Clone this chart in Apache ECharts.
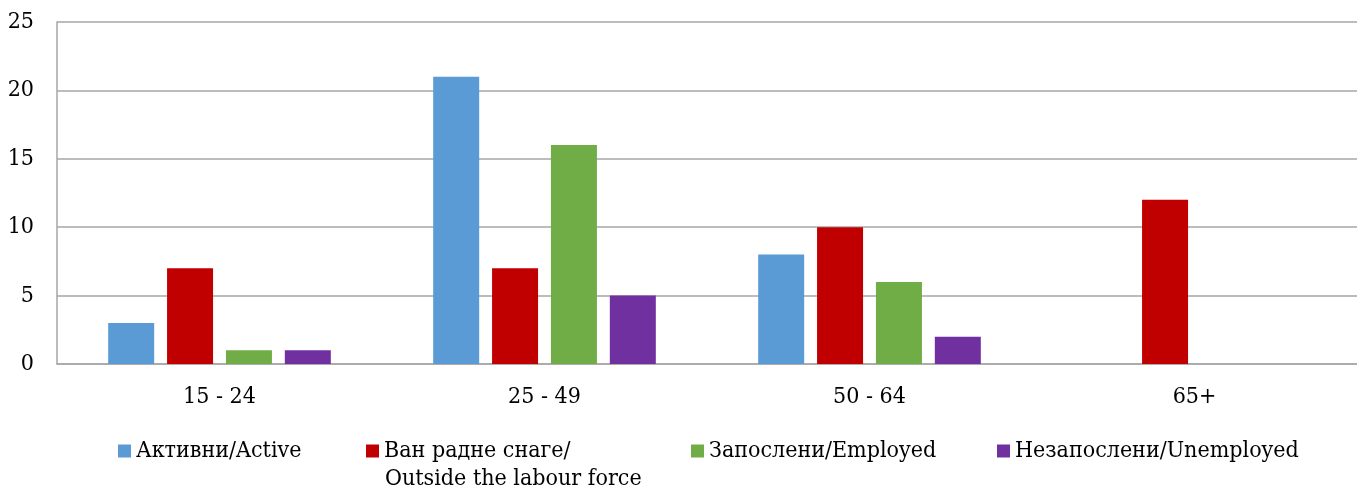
<!DOCTYPE html>
<html>
<head>
<meta charset="utf-8">
<script src="https://cdn.jsdelivr.net/npm/echarts@6/dist/echarts.min.js"></script>
<style>html,body{margin:0;padding:0;background:#fff;}#c{width:1357px;height:486px;}</style>
</head>
<body>
<div id="c"></div>
<script>
const categories = ['15 - 24', '25 - 49', '50 - 64', '65+'];
const seriesNames = ['Активни/Active', 'Ван радне снаге/\nOutside the labour force', 'Запослени/Employed', 'Незапослени/Unemployed'];
const active = [3, 21, 8, null];
const outside = [7, 7, 10, 12];
const employed = [1, 16, 6, null];
const unemployed = [1, 5, 2, null];
const colors = ['#5b9bd5', '#c00000', '#70ad47', '#7030a0'];

const FONT = 'DejaVu Serif Condensed, DejaVu Serif';
const FS = 23;
const chart = echarts.init(document.getElementById('c'));
const values = [active, outside, employed, unemployed];
const legendLeft = [118, 366, 691, 997];
const LEG_Y = 451;

const graphics = [];
const legends = seriesNames.map((n, i) => {
  const parts = n.split('\n');
  const lg = {
    data: [n],
    left: legendLeft[i],
    top: LEG_Y - 13.5,
    padding: 0,
    itemWidth: 13,
    itemHeight: 13,
    itemGap: 0,
    icon: 'rect',
    selectedMode: false,
    textStyle: { fontFamily: FONT, fontSize: FS, color: '#000', lineHeight: 27 }
  };
  if (parts.length > 1) {
    lg.formatter = () => parts[0];
    graphics.push({
      type: 'text',
      left: legendLeft[i] + 19,
      top: LEG_Y + 28 - 13.5,
      style: { text: parts[1], font: FS + 'px ' + FONT, fill: '#000', lineHeight: 27 }
    });
  }
  return lg;
});

chart.setOption({
  animation: false,
  color: colors,
  textStyle: { fontFamily: FONT },
  grid: { left: 57, right: 0, top: 22, bottom: 122, containLabel: false },
  legend: legends,
  graphic: graphics,
  xAxis: {
    type: 'category',
    data: categories,
    axisLine: { show: true, lineStyle: { color: '#a6a6a6', width: 1.5 } },
    axisTick: { show: false },
    axisLabel: { fontFamily: FONT, fontSize: FS, color: '#000', margin: 22 }
  },
  yAxis: {
    type: 'value',
    min: 0, max: 25, interval: 5,
    axisLine: { show: true, lineStyle: { color: '#a6a6a6', width: 1.5 } },
    axisTick: { show: false },
    splitLine: { show: true, lineStyle: { color: '#a6a6a6', width: 1.5 } },
    axisLabel: { fontFamily: FONT, fontSize: FS, color: '#000', margin: 23 }
  },
  series: seriesNames.map((n, i) => ({
    name: n,
    type: 'bar',
    data: values[i],
    barWidth: 46,
    barGap: '28%',
    itemStyle: { color: colors[i] }
  }))
});
</script>
</body>
</html>
